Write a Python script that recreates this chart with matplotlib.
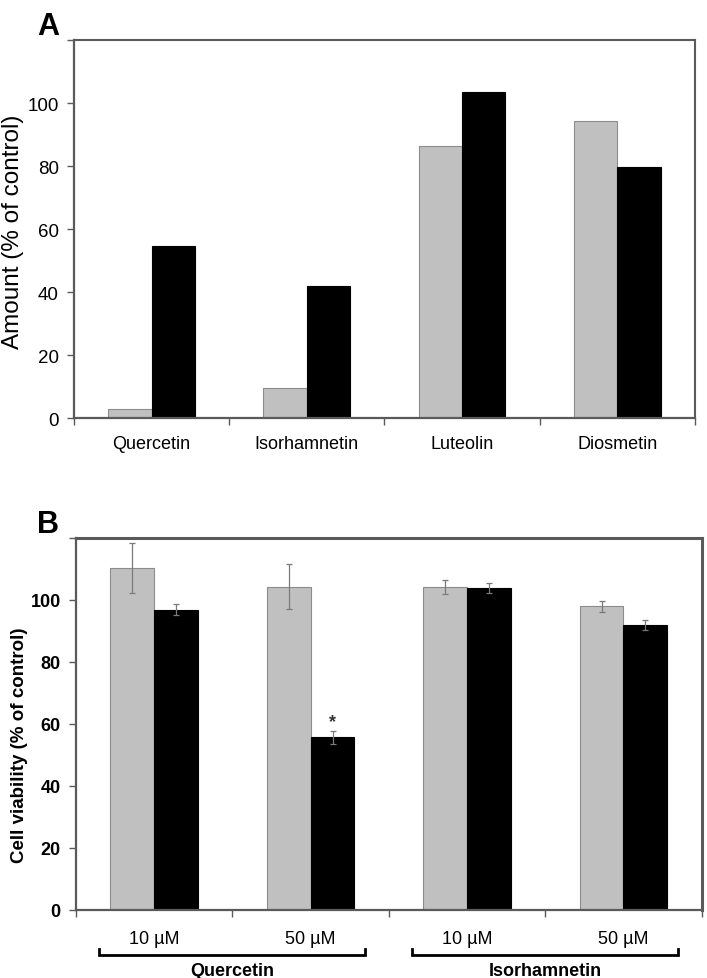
import matplotlib
matplotlib.use("Agg")
import matplotlib.pyplot as plt
import matplotlib.transforms as mtransforms
import numpy as np

plt.rcParams["font.family"] = ["Liberation Sans", "DejaVu Sans"]

# ---- panel A data ----
a_categories = ["Quercetin", "Isorhamnetin", "Luteolin", "Diosmetin"]
a_gray = [2.8, 9.5, 86.4, 94.2]
a_black = [54.5, 41.8, 103.5, 79.8]

# ---- panel B data ----
b_doses = ["10 µM", "50 µM", "10 µM", "50 µM"]
b_groups = ["Quercetin", "Isorhamnetin"]
b_gray = [110.3, 104.2, 104.2, 98.0]
b_gray_err = [8.0, 7.3, 2.3, 1.8]
b_black = [96.8, 55.7, 103.8, 92.0]
b_black_err = [1.8, 2.1, 1.7, 1.6]
b_star = [None, "*", None, None]

GRAY = "#c0c0c0"
GRAY_EDGE = "#8c8c8c"
FRAME = "#5a5a5a"
W = 0.28
yticks = [0, 20, 40, 60, 80, 100, 120]
ylabels = ["0", "20", "40", "60", "80", "100", ""]


def style_axes(ax, n, lw_top=1.5):
    ax.set_xlim(-0.5, n - 0.5)
    ax.set_ylim(0, 120)
    for side, sp in ax.spines.items():
        sp.set_color(FRAME)
        sp.set_linewidth(lw_top if side in ("top", "right") else 1.6)
    ax.set_yticks(yticks)
    ax.set_xticks(np.arange(n + 1) - 0.5, minor=True)
    ax.tick_params(axis="x", which="major", length=0)
    ax.tick_params(axis="x", which="minor", length=5, color=FRAME, width=1)
    ax.tick_params(axis="y", length=5, color=FRAME, width=1, pad=6)


fig = plt.figure(figsize=(7.07, 9.79), dpi=100)

# ---- A ----
axA = fig.add_axes([0.1047, 0.572, 0.878, 0.386])
x = np.arange(len(a_categories))
axA.bar(x - W / 2, a_gray, W, color=GRAY, edgecolor=GRAY_EDGE, linewidth=0.8)
axA.bar(x + W / 2, a_black, W, color="black", edgecolor="black", linewidth=0.8)
style_axes(axA, len(a_categories))
axA.set_xticks(x, a_categories, fontsize=13)
axA.tick_params(axis="x", which="major", pad=12)
axA.set_yticklabels(ylabels, fontsize=13.5)
axA.set_ylabel("Amount (% of control)", fontsize=17.5)
axA.yaxis.set_label_coords(-0.080, 0.496)
fig.text(0.052, 0.988, "A", fontsize=22, fontweight="bold", va="top")

# ---- B ----
axB = fig.add_axes([0.1075, 0.0698, 0.885, 0.3797])
xb = np.arange(len(b_doses))
ekw = dict(ecolor="#7a7a7a", elinewidth=0.9, capsize=2.5, capthick=0.9)
axB.bar(xb - W / 2, b_gray, W, color=GRAY, edgecolor=GRAY_EDGE, linewidth=0.8,
        yerr=b_gray_err, error_kw=ekw)
axB.bar(xb + W / 2, b_black, W, color="black", edgecolor="black", linewidth=0.8,
        yerr=b_black_err, error_kw=ekw)
style_axes(axB, len(b_doses), lw_top=2.2)
axB.set_xticks(xb, b_doses, fontsize=13)
axB.tick_params(axis="x", which="major", pad=15)
axB.set_yticklabels(ylabels, fontsize=13, fontweight="bold")
axB.set_ylabel("Cell viability (% of control)", fontsize=13.5, fontweight="bold")
axB.yaxis.set_label_coords(-0.077, 0.446)
for xi, v, e, s in zip(xb, b_black, b_black_err, b_star):
    if s:
        axB.text(xi + W / 2, v + e + 3, s, ha="center", va="center",
                 fontsize=13, fontweight="bold", color="#333333")

# group brackets below the dose labels
trans = mtransforms.blended_transform_factory(axB.transData, axB.transAxes)
for gi, name in enumerate(b_groups):
    c = 2 * gi + 0.5
    x0, x1 = c - 0.85, c + 0.85
    axB.plot([x0, x0, x1, x1], [-0.105, -0.122, -0.122, -0.105], transform=trans,
             color="black", lw=2, clip_on=False, solid_joinstyle="miter")
    axB.text(c, -0.14, name, transform=trans, ha="center", va="top",
             fontsize=13, fontweight="bold")
fig.text(0.053, 0.479, "B", fontsize=22, fontweight="bold", va="top")

fig.savefig("out.png", dpi=100)
